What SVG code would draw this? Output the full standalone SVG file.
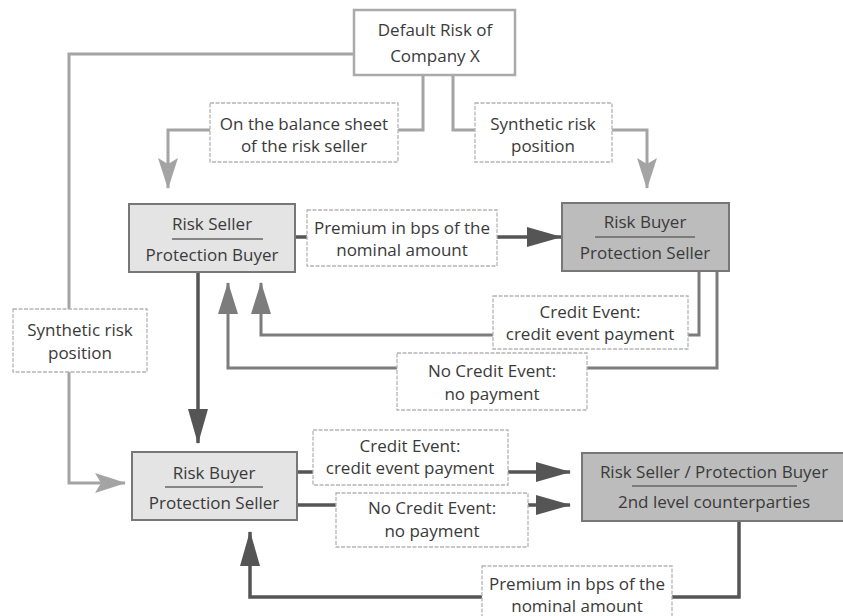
<svg xmlns="http://www.w3.org/2000/svg" width="843" height="616" viewBox="0 0 843 616">
<defs>
<marker id="aD" markerWidth="35" markerHeight="20" refX="34" refY="10" orient="auto" markerUnits="userSpaceOnUse"><path d="M0,0 L35,10 L0,20 Z" fill="#555"/></marker>
<marker id="aM" markerWidth="32" markerHeight="20" refX="31" refY="10" orient="auto" markerUnits="userSpaceOnUse"><path d="M0,0 L32,10 L0,20 Z" fill="#7c7c7c"/></marker>
<marker id="aG" markerWidth="31" markerHeight="20" refX="30" refY="10" orient="auto" markerUnits="userSpaceOnUse"><path d="M0,0 L31,10 L0,20 L6,10 Z" fill="#a4a4a4"/></marker>
</defs>
<style>
text{font-family:"Open Sans","Liberation Sans",sans-serif;font-size:17px;fill:#3a3a3a;text-anchor:middle}
.lbl{fill:#fff;stroke:#b4b4b4;stroke-width:1.3;stroke-dasharray:4 1.5}
.node1{fill:#e4e4e4;stroke:#777;stroke-width:2}
.node2{fill:#bcbcbc;stroke:#777;stroke-width:2}
.top{fill:#fff;stroke:#aaa;stroke-width:2.5}
.c{fill:none}
.cl{stroke:#a4a4a4;stroke-width:3}
.cm{stroke:#7c7c7c;stroke-width:3}
.cd{stroke:#555;stroke-width:3.5}
.ul{stroke:#666;stroke-width:1.5}
</style>
<rect width="843" height="616" fill="#fff"/>
<g id="connectors">
<path class="c cl" d="M354,54 H69 V483 H125" marker-end="url(#aG)"/>
<path class="c cl" d="M423,75 V130 H398"/>
<path class="c cl" d="M210,130 H168 V188" marker-end="url(#aG)"/>
<path class="c cl" d="M453,75 V130 H475"/>
<path class="c cl" d="M612,130 H647 V188" marker-end="url(#aG)"/>
<path class="c cd" d="M295,237 H307"/>
<path class="c cd" d="M497,237 H561" marker-end="url(#aD)"/>
<path class="c cm" d="M699,271 V335 H688"/>
<path class="c cm" d="M493,335 H261 V283" marker-end="url(#aM)"/>
<path class="c cm" d="M717,271 V368 H587"/>
<path class="c cm" d="M397,368 H228 V283" marker-end="url(#aM)"/>
<path class="c cd" d="M198,272 V443" marker-end="url(#aD)"/>
<path class="c cd" d="M297,472 H313"/>
<path class="c cd" d="M508,472 H570" marker-end="url(#aD)"/>
<path class="c cd" d="M297,505 H336"/>
<path class="c cd" d="M528,505 H570" marker-end="url(#aD)"/>
<path class="c cd" d="M739,521 V597 H672"/>
<path class="c cd" d="M482,597 H250 V532" marker-end="url(#aD)"/>
</g>
<g id="default-risk">
<rect class="top" x="354" y="10" width="161" height="65"/>
<text x="435" y="36">Default Risk of</text>
<text x="435" y="62">Company X</text>
</g>
<g id="lbl-balance">
<rect class="lbl" x="210" y="103" width="188" height="59"/>
<text x="304" y="130">On the balance sheet</text>
<text x="304" y="152">of the risk seller</text>
</g>
<g id="lbl-synth1">
<rect class="lbl" x="475" y="103" width="137" height="59"/>
<text x="543" y="130">Synthetic risk</text>
<text x="543" y="152">position</text>
</g>
<g id="risk-seller-1">
<rect class="node1" x="129" y="204" width="166" height="68"/>
<text x="212" y="230">Risk Seller</text>
<line class="ul" x1="172" y1="239" x2="263" y2="239"/>
<text x="212" y="261">Protection Buyer</text>
</g>
<g id="lbl-premium1">
<rect class="lbl" x="307" y="210" width="190" height="56"/>
<text x="402" y="234">Premium in bps of the</text>
<text x="402" y="256">nominal amount</text>
</g>
<g id="risk-buyer-1">
<rect class="node2" x="562" y="203" width="167" height="68"/>
<text x="645" y="228">Risk Buyer</text>
<line class="ul" x1="595" y1="237" x2="695" y2="237"/>
<text x="645" y="259">Protection Seller</text>
</g>
<g id="lbl-credit1">
<rect class="lbl" x="493" y="296" width="195" height="53"/>
<text x="590" y="318">Credit Event:</text>
<text x="590" y="340">credit event payment</text>
</g>
<g id="lbl-nocredit1">
<rect class="lbl" x="397" y="353" width="190" height="57"/>
<text x="492" y="377">No Credit Event:</text>
<text x="492" y="400">no payment</text>
</g>
<g id="lbl-synth2">
<rect class="lbl" x="13" y="309" width="134" height="63"/>
<text x="80" y="336">Synthetic risk</text>
<text x="80" y="359">position</text>
</g>
<g id="risk-buyer-2">
<rect class="node1" x="132" y="452" width="165" height="68"/>
<text x="214" y="479">Risk Buyer</text>
<line class="ul" x1="165" y1="487" x2="263" y2="487"/>
<text x="214" y="509">Protection Seller</text>
</g>
<g id="lbl-credit2">
<rect class="lbl" x="313" y="430" width="195" height="55"/>
<text x="410" y="452">Credit Event:</text>
<text x="410" y="474">credit event payment</text>
</g>
<g id="lbl-nocredit2">
<rect class="lbl" x="336" y="493" width="192" height="54"/>
<text x="432" y="514">No Credit Event:</text>
<text x="432" y="537">no payment</text>
</g>
<g id="counterparties">
<rect class="node2" x="582" y="453" width="270" height="68"/>
<text x="714" y="478">Risk Seller / Protection Buyer</text>
<line class="ul" x1="632" y1="486" x2="797" y2="486"/>
<text x="714" y="508">2nd level counterparties</text>
</g>
<g id="lbl-premium2">
<rect class="lbl" x="482" y="566" width="190" height="56"/>
<text x="577" y="590">Premium in bps of the</text>
<text x="577" y="612">nominal amount</text>
</g>
</svg>
